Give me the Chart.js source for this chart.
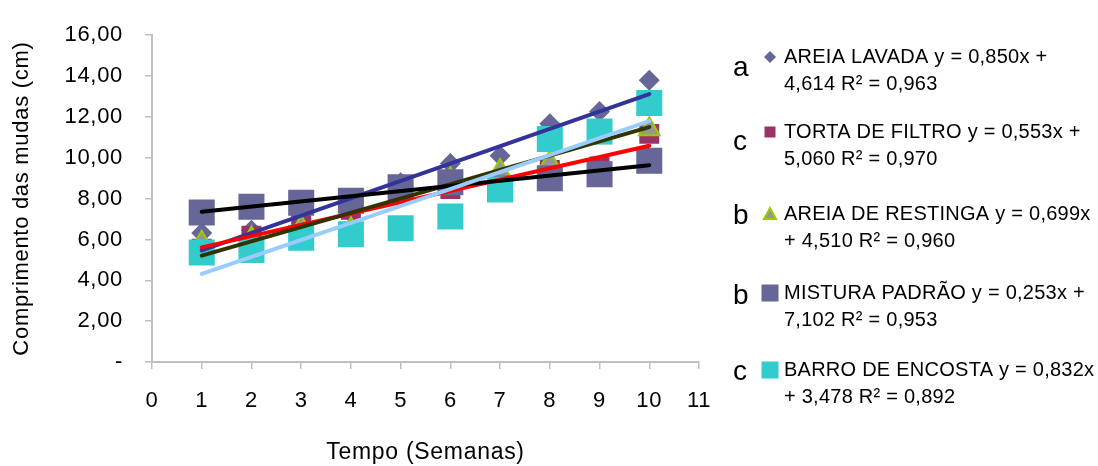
<!DOCTYPE html>
<html>
<head>
<meta charset="utf-8">
<script src="https://cdn.jsdelivr.net/npm/chart.js@4.4.1/dist/chart.umd.min.js"></script>
<style>
  html, body { margin: 0; padding: 0; background: #ffffff; }
  #wrap { width: 1098px; height: 466px; position: relative; }
</style>
</head>
<body>
<div id="wrap"><canvas id="growth" width="1098" height="466"></canvas></div>
<script>
// Seedling length (cm) per week for each substrate
const weeks = [1, 2, 3, 4, 5, 6, 7, 8, 9, 10];
const areiaLavada   = [6.31, 6.45, 7.00, 7.30, 8.78, 9.72, 10.10, 11.67, 12.26, 13.80];
const tortaFiltro   = [5.55, 6.18, 7.10, 7.45, 8.50, 8.47, 8.70, 9.40, 9.57, 11.17];
const areiaRestinga = [5.84, 6.05, 6.60, 6.50, 8.40, 8.95, 9.35, 9.76, 11.00, 11.39];
const misturaPadrao = [7.32, 7.60, 7.80, 7.90, 8.56, 8.80, 8.50, 9.00, 9.19, 9.85];
const barroEncosta  = [5.36, 5.49, 6.08, 6.25, 6.55, 7.12, 8.45, 10.92, 11.28, 12.68];

// Series names, significance letters and linear fits (y = a·x + b)
const seriesNames  = ['AREIA LAVADA', 'TORTA DE FILTRO', 'AREIA DE RESTINGA', 'MISTURA PADRÃO', 'BARRO DE ENCOSTA'];
const groupLetters = ['a', 'c', 'b', 'b', 'c'];
const slopes       = [0.850, 0.553, 0.699, 0.253, 0.832];
const intercepts   = [4.614, 5.060, 4.510, 7.102, 3.478];
const rSquared     = [0.963, 0.970, 0.960, 0.953, 0.892];
// legend line break: true = after "x +", false = after "x"
const breakAfterPlus = [true, true, false, true, false];

// Axis tick labels
const xTickLabels = ['0', '1', '2', '3', '4', '5', '6', '7', '8', '9', '10', '11'];
const yTickLabels = ['-', '2,00', '4,00', '6,00', '8,00', '10,00', '12,00', '14,00', '16,00'];

const seriesValues = [areiaLavada, tortaFiltro, areiaRestinga, misturaPadrao, barroEncosta];

// marker styles
const markerStyle = [
  { pointStyle: 'rectRot',  radius: 10.5, bg: '#666699', border: '#666699', bw: 0 },
  { pointStyle: 'rect',     radius: 14.1, bg: '#993366', border: '#993366', bw: 0 },
  { pointStyle: 'triangle', radius: 12,   bg: '#969696', border: '#99cc00', bw: 2 },
  { pointStyle: 'rect',     radius: 18.4, bg: '#666699', border: '#666699', bw: 0 },
  { pointStyle: 'rect',     radius: 18.4, bg: '#33cccc', border: '#33cccc', bw: 0 }
];
const trendColors = ['#333399', '#ff0000', '#333300', '#000000', '#99ccff'];

const fmt = (v) => v.toFixed(3).replace('.', ',');

const datasets = [];
seriesValues.forEach((vals, i) => {
  const m = markerStyle[i];
  datasets.push({
    label: seriesNames[i],
    data: weeks.map((w, k) => ({ x: w, y: vals[k] })),
    pointStyle: m.pointStyle,
    pointRadius: m.radius,
    pointHoverRadius: m.radius,
    backgroundColor: m.bg,
    borderColor: m.border,
    borderWidth: m.bw,
    showLine: false,
    order: 10 - i
  });
});
seriesValues.forEach((vals, i) => {
  const x0 = weeks[0], x1 = weeks[weeks.length - 1];
  datasets.push({
    label: 'Linear (' + seriesNames[i] + ')',
    data: [
      { x: x0, y: slopes[i] * x0 + intercepts[i] },
      { x: x1, y: slopes[i] * x1 + intercepts[i] }
    ],
    showLine: true,
    pointRadius: 0,
    borderColor: trendColors[i],
    borderWidth: 4,
    borderCapStyle: 'round',
    fill: false,
    order: 5 - i
  });
});

const FONT = 'Liberation Sans, Arial, Helvetica, sans-serif';

// slightly open tracking for axis text
const tracking = {
  id: 'tracking',
  beforeDraw(chart) { chart.ctx.letterSpacing = '0.7px'; }
};

// Legend drawn beside the plot: significance letter, marker, two text lines
const sideLegend = {
  id: 'sideLegend',
  afterDraw(chart) {
    const ctx = chart.ctx;
    ctx.save();
    const textY = [57, 132, 214, 293, 370];
    const letterY = [68, 142, 216, 296, 372];
    const lineGap = 27;
    seriesNames.forEach((name, i) => {
      const y = textY[i];
      // significance letter
      ctx.letterSpacing = '0px';
      ctx.fillStyle = '#000000';
      ctx.font = '28px ' + FONT;
      ctx.textAlign = 'left';
      ctx.textBaseline = 'middle';
      ctx.fillText(groupLetters[i], 733, letterY[i]);
      // marker
      const mx = 770;
      ctx.beginPath();
      if (i === 0) {
        ctx.moveTo(mx - 6, y); ctx.lineTo(mx, y - 6); ctx.lineTo(mx + 6, y); ctx.lineTo(mx, y + 6);
        ctx.closePath(); ctx.fillStyle = markerStyle[0].bg; ctx.fill();
      } else if (i === 1) {
        ctx.fillStyle = markerStyle[1].bg; ctx.fillRect(mx - 5.5, y - 5.5, 11, 11);
      } else if (i === 2) {
        ctx.moveTo(mx, y - 6); ctx.lineTo(mx + 6, y + 5); ctx.lineTo(mx - 6, y + 5); ctx.closePath();
        ctx.fillStyle = markerStyle[2].bg; ctx.fill();
        ctx.lineWidth = 2; ctx.strokeStyle = markerStyle[2].border; ctx.stroke();
      } else {
        ctx.fillStyle = markerStyle[i].bg; ctx.fillRect(mx - 8.5, y - 8.5, 17, 17);
      }
      // text
      const line1 = name + ' y = ' + fmt(slopes[i]) + 'x' + (breakAfterPlus[i] ? ' +' : '');
      const line2 = (breakAfterPlus[i] ? '' : '+ ') + fmt(intercepts[i]) + ' R² = ' + fmt(rSquared[i]);
      ctx.letterSpacing = '0.25px';
      ctx.fillStyle = '#000000';
      ctx.font = '20px ' + FONT;
      ctx.fillText(line1, 784, y);
      ctx.fillText(line2, 784, y + lineGap);
    });
    ctx.restore();
  }
};

new Chart(document.getElementById('growth'), {
  type: 'scatter',
  data: { datasets },
  options: {
    responsive: false,
    animation: false,
    devicePixelRatio: 1,
    layout: { padding: { top: 28, right: 399, bottom: 0, left: 0 } },
    plugins: {
      legend: { display: false },
      tooltip: { enabled: false }
    },
    scales: {
      x: {
        type: 'linear',
        min: 0, max: 11,
        afterFit(s) { s.height = 104; },
        ticks: {
          stepSize: 1,
          autoSkip: false,
          maxRotation: 0,
          padding: 19,
          color: '#000000',
          font: { family: FONT, size: 22 },
          callback: (v) => xTickLabels[v]
        },
        grid: { drawOnChartArea: false, drawTicks: true, tickLength: 7, color: '#bfbfbf', lineWidth: 1.5 },
        border: { display: true, color: '#bfbfbf', width: 2 },
        title: {
          display: true,
          text: 'Tempo (Semanas)',
          color: '#000000',
          font: { family: FONT, size: 23 },
          padding: { top: 0, bottom: 0 }
        }
      },
      y: {
        min: 0, max: 16,
        afterFit(s) { s.width = 152; },
        ticks: {
          stepSize: 2,
          padding: 22,
          color: '#000000',
          font: { family: FONT, size: 22 },
          callback: (v) => yTickLabels[Math.round(v / 2)]
        },
        grid: { drawOnChartArea: false, drawTicks: true, tickLength: 7, color: '#bfbfbf', lineWidth: 1.5 },
        border: { display: true, color: '#bfbfbf', width: 2 },
        title: {
          display: true,
          text: 'Comprimento das mudas (cm)',
          color: '#000000',
          font: { family: FONT, size: 22 },
          padding: { top: 9, bottom: 0 }
        }
      }
    }
  },
  plugins: [tracking, sideLegend]
});
</script>
</body>
</html>
